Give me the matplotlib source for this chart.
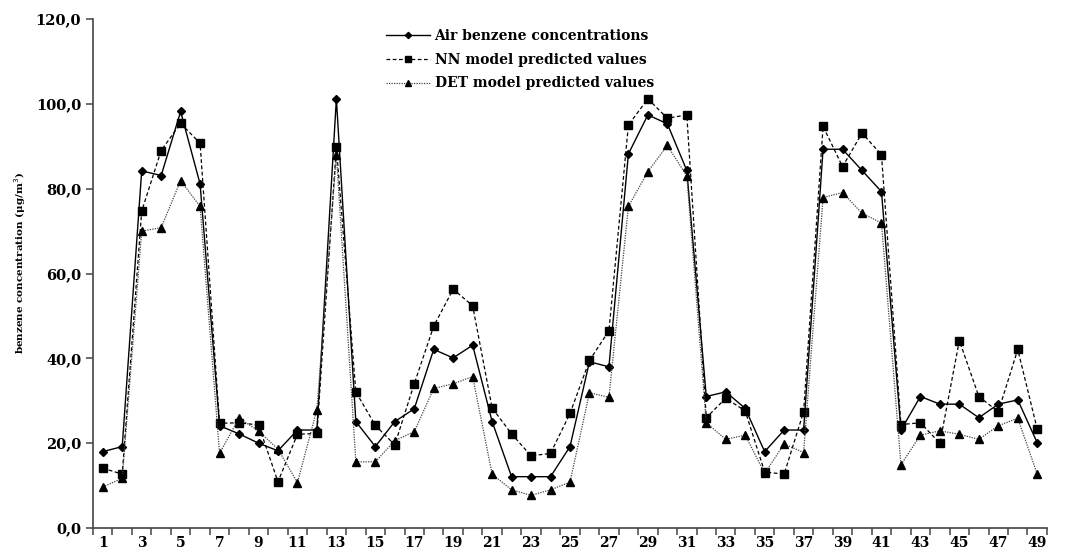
import numpy as np
import matplotlib
matplotlib.use('Agg')
import matplotlib.pyplot as plt
from matplotlib.ticker import FixedLocator, FuncFormatter

muestras = list(range(1, 50))

aire = [18.0, 19.2, 84.2, 83.1, 98.2, 81.1, 24.1, 22.2, 20.0, 18.2,
        23.1, 23.1, 101.2, 25.1, 19.2, 25.1, 28.1, 42.1, 40.1, 43.1,
        25.1, 12.1, 12.1, 12.1, 19.2, 39.2, 38.0, 88.2, 97.4, 95.3,
        84.3, 31.0, 32.1, 28.2, 18.0, 23.1, 23.1, 89.3, 89.3, 84.3,
        79.3, 23.1, 31.0, 29.2, 29.2, 26.0, 29.2, 30.2, 20.1]

nn = [14.1, 12.7, 74.7, 89.0, 95.4, 90.7, 24.7, 24.8, 24.3, 10.9,
      22.1, 22.3, 89.9, 32.1, 24.2, 19.6, 34.0, 47.6, 56.3, 52.4,
      28.3, 22.2, 17.0, 17.6, 27.0, 39.5, 46.5, 95.0, 101.2, 96.6,
      97.4, 26.0, 30.6, 27.6, 13.2, 12.7, 27.4, 94.7, 85.2, 93.1,
      88.0, 24.4, 24.8, 20.0, 44.2, 31.0, 27.4, 42.1, 23.3]

det = [9.7, 11.7, 70.0, 70.8, 81.9, 75.8, 17.6, 25.9, 22.9, 18.6,
       10.7, 27.9, 88.0, 15.6, 15.6, 20.6, 22.7, 32.9, 34.0, 35.7,
       12.7, 9.0, 7.7, 9.0, 10.8, 31.9, 30.8, 75.8, 84.0, 90.2,
       83.0, 24.8, 20.9, 21.9, 12.9, 19.8, 17.8, 77.9, 79.1, 74.2,
       71.9, 14.9, 21.9, 22.9, 22.1, 20.9, 24.1, 25.9, 12.7]

etiquetas = ['Air benzene concentrations', 'NN model predicted values',
             'DET model predicted values']

def main():
    plt.rcParams['font.family'] = ['DejaVu Serif']
    fig = plt.figure(figsize=(10.68, 5.53), dpi=100)
    ax = fig.add_axes([0.0871, 0.0452, 0.8932, 0.9204])

    ax.plot(muestras, aire, color='black', lw=1.0, ls='-', marker='D', ms=4,
            label=etiquetas[0])
    ax.plot(muestras, nn, color='black', lw=0.9, ls=(0, (3, 2)), marker='s', ms=5.5,
            label=etiquetas[1])
    ax.plot(muestras, det, color='#444444', lw=0.9, ls=(0, (1, 1)), marker='^', ms=5.5,
            mfc='black', mec='black', label=etiquetas[2])

    ax.set_xlim(0.5, 49.5)
    ax.set_ylim(0, 120)
    ax.spines['top'].set_visible(False)
    ax.spines['right'].set_visible(False)
    for s in ['left', 'bottom']:
        ax.spines[s].set_color('#444444')
        ax.spines[s].set_linewidth(1.2)

    ax.xaxis.set_major_locator(FixedLocator(np.arange(1, 50, 2)))
    ax.xaxis.set_minor_locator(FixedLocator(np.arange(0.5, 50, 1)))
    ax.tick_params(axis='x', which='major', length=0, pad=6, labelsize=10)
    ax.tick_params(axis='x', which='minor', length=5, width=1.1, color='#444444')
    ax.set_yticks(np.arange(0, 121, 20))
    ax.yaxis.set_major_formatter(FuncFormatter(lambda v, p: ('%.1f' % v).replace('.', ',')))
    ax.tick_params(axis='y', length=5, width=1.1, color='#444444', labelsize=10.5)
    for t in ax.get_xticklabels() + ax.get_yticklabels():
        t.set_fontweight('bold')

    ax.set_ylabel('benzene concentration (\u03bcg/m$^3$)', fontsize=7.5,
                  fontweight='bold')
    ax.yaxis.set_label_coords(-0.068, 0.52)

    ax.legend(loc='upper left', bbox_to_anchor=(0.294, 1.005), frameon=False,
              handlelength=3.2, handletextpad=0.3, labelspacing=0.7,
              prop={'weight': 'bold', 'size': 10}, markerscale=0.8)

    fig.savefig('out.png', dpi=100)

if __name__ == '__main__':
    main()
